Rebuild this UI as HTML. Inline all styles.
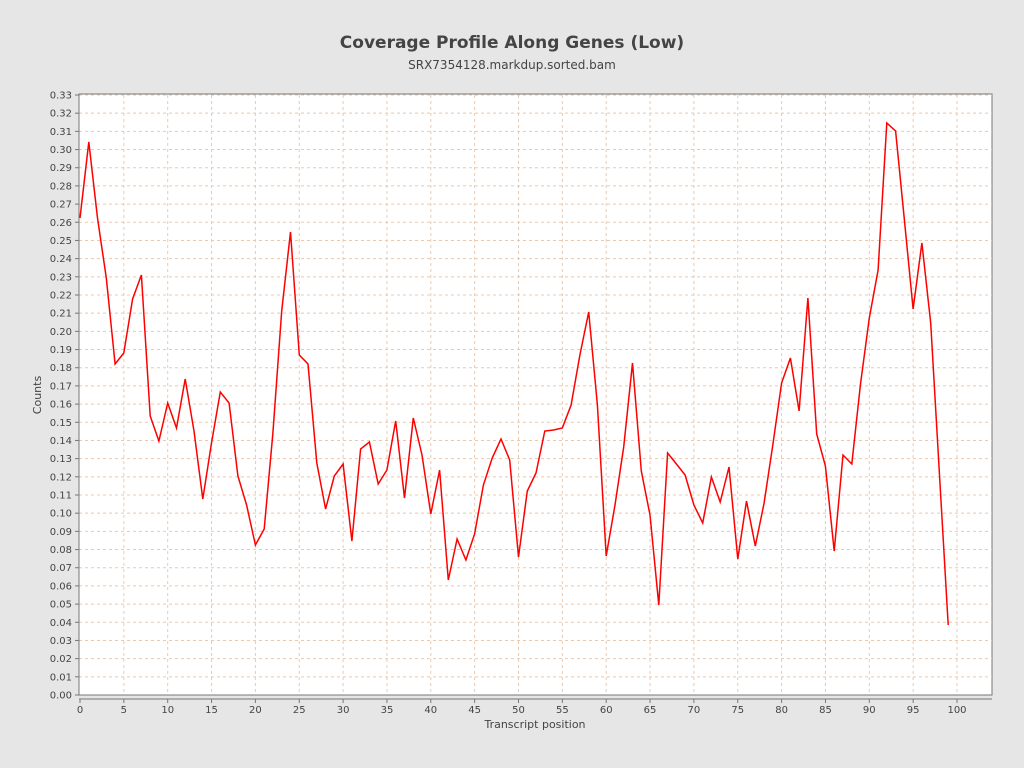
<!DOCTYPE html>
<html><head><meta charset="utf-8"><style>
html,body{margin:0;padding:0;background:#e6e6e6;}
svg{display:block;font-family:"DejaVu Sans","Liberation Sans",sans-serif;}
</style></head><body>
<svg width="1024" height="768" xmlns="http://www.w3.org/2000/svg">
<rect width="1024" height="768" fill="#e6e6e6"/>
<text x="512" y="48" text-anchor="middle" font-size="17" font-weight="bold" fill="#444">Coverage Profile Along Genes (Low)</text>
<text x="512" y="69" text-anchor="middle" font-size="12" fill="#444">SRX7354128.markdup.sorted.bam</text>
<rect x="79" y="94" width="913" height="601" fill="#fff" stroke="#777" stroke-width="1"/>
<g id="grid" stroke="#f0c8a8" stroke-width="1" stroke-dasharray="3,3"></g>
<g id="yt" font-size="10" fill="#444" text-anchor="end"></g>
<g id="xt" font-size="10" fill="#444" text-anchor="middle"></g>
<line x1="79" y1="699" x2="992" y2="699" stroke="#777"/>
<line x1="79" y1="94" x2="79" y2="695" stroke="#777"/>
<polyline id="ln" fill="none" stroke="#ff0000" stroke-width="1.5"/>
<text x="535" y="728" text-anchor="middle" font-size="11" fill="#444">Transcript position</text>
<text transform="translate(41,395) rotate(-90)" text-anchor="middle" font-size="11" fill="#444">Counts</text>
</svg>
<script>
var ns="http://www.w3.org/2000/svg";
function el(t,a,p,txt){var e=document.createElementNS(ns,t);for(var k in a)e.setAttribute(k,a[k]);if(txt!=null)e.textContent=txt;document.getElementById(p).appendChild(e);}
var y0=695,py=600/33;
for(var i=0;i<=33;i++){var y=y0-i*py;
 if(i>0)el("line",{x1:79,y1:y,x2:992,y2:y},"grid");
 el("text",{x:72,y:y+3.5},"yt",(i/100).toFixed(2));
 el("line",{x1:75,y1:y,x2:79,y2:y,stroke:"#777"},"yt");}
var x0=80,px=8.77;
for(var i=0;i<=100;i+=5){var x=x0+i*px;
 if(i>0)el("line",{x1:x,y1:95,x2:x,y2:695},"grid");
 el("text",{x:x,y:713},"xt",i);
 el("line",{x1:x,y1:699,x2:x,y2:703,stroke:"#777"},"xt");}
var ys=[218,142,218,278,364,353,299,275,416,441,403,428,379,431,499,443,392,403,476,505,545,529,433,311,232,355,364,463,509,476,464,541,449,442,484,470,421,498,418,455,514,470,580,539,560,534,485,458,439,460,557,491,473,431,430,428,405,355,312,405,556,505,447,363,471,515,605,453,464,475,505,523,477,502,467,559,501,546,503,445,383,358,411,298,434,466,551,455,464,384,318,270,123,131,220,309,243,323,475,625];
document.getElementById("ln").setAttribute("points",ys.map(function(y,i){return (x0+i*px).toFixed(1)+","+y}).join(" "));
</script>
</body></html>
